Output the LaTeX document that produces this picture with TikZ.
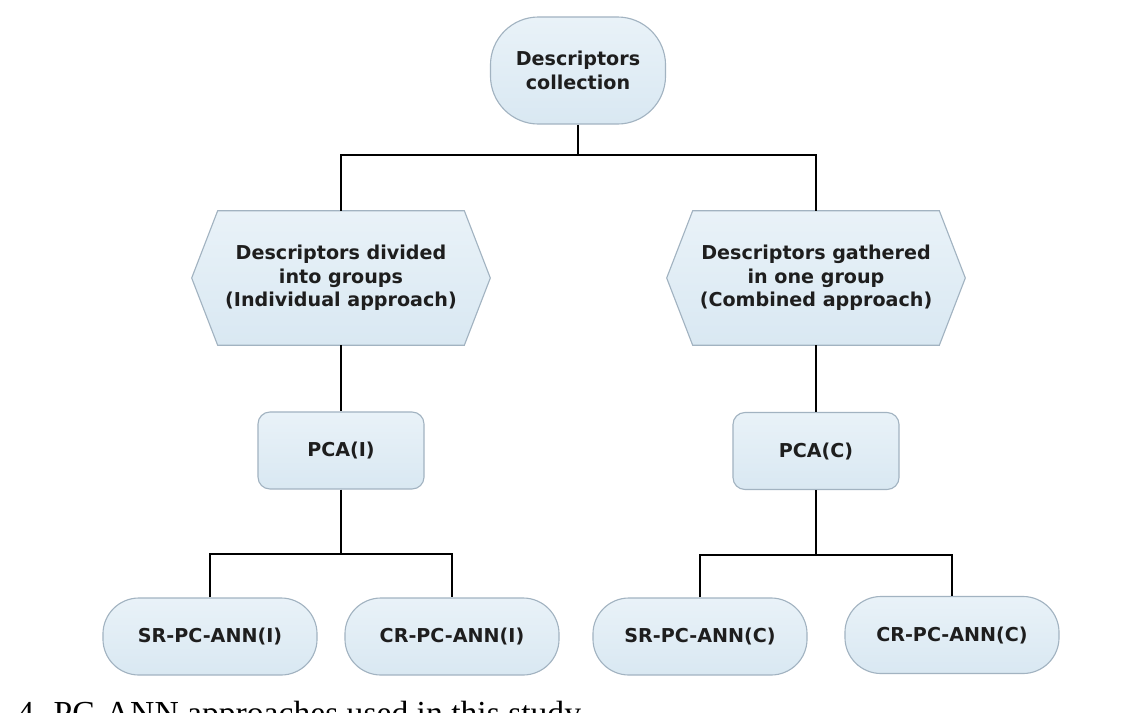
\documentclass[tikz,border=0pt]{standalone}
\usepackage{fontspec}
\setsansfont{DejaVu Sans}
\setmainfont{Liberation Serif}
\usetikzlibrary{calc,backgrounds}
\definecolor{boxfill}{HTML}{D9E8F2}
\definecolor{boxfilltop}{HTML}{E9F2F8}
\definecolor{boxline}{HTML}{A2B3C1}
\definecolor{txt}{HTML}{1E1E1E}
\tikzset{
  box/.style={draw=boxline, line width=0.8pt, top color=boxfilltop, bottom color=boxfill,
    text=txt, font=\sffamily\bfseries\fontsize{13.6}{16.6}\selectfont, align=center, inner sep=0pt},
  topbox/.style={box, minimum width=4.375cm, minimum height=2.675cm, rounded corners=1.2cm},
  hexbox/.style={text=txt, font=\sffamily\bfseries\fontsize{13.6}{16.6}\selectfont, align=center,
    inner sep=0pt, minimum width=7.45cm, minimum height=3.35cm},
  hexshape/.style={draw=boxline, line width=0.8pt, top color=boxfilltop, bottom color=boxfill},
  pcabox/.style={box, minimum width=4.15cm, minimum height=1.925cm, rounded corners=0.3cm},
  leafbox/.style={box, minimum width=5.35cm, minimum height=1.925cm, rounded corners=0.9cm},
  conn/.style={line width=1.5pt, black},
}
\newcommand{\hexpath}[1]{%
  \path[hexshape] ($(#1.north west)+(0.65cm,0)$) -- ($(#1.north east)+(-0.65cm,0)$) -- (#1.east)
    -- ($(#1.south east)+(-0.65cm,0)$) -- ($(#1.south west)+(0.65cm,0)$) -- (#1.west) -- cycle;}
\begin{document}
\begin{tikzpicture}[x=0.025cm,y=-0.025cm]
\useasboundingbox (0,0) rectangle (1138,712);
\clip (0,0) rectangle (1138,712);

\node[topbox] (top) at (578,70.5) {Descriptors\\collection};
\node[hexbox] (hl) at (341,278) {Descriptors divided\\into groups\\(Individual approach)};
\node[hexbox] (hr) at (816,278) {Descriptors gathered\\in one group\\(Combined approach)};
\begin{pgfonlayer}{background}
  \hexpath{hl}
  \hexpath{hr}
\end{pgfonlayer}

\node[pcabox] (pl) at (341,450.5) {PCA(I)};
\node[pcabox] (pr) at (816,451) {PCA(C)};

\node[leafbox] (l1) at (210,636.5) {SR-PC-ANN(I)};
\node[leafbox] (l2) at (452,636.5) {CR-PC-ANN(I)};
\node[leafbox] (r1) at (700,636.5) {SR-PC-ANN(C)};
\node[leafbox] (r2) at (952,635) {CR-PC-ANN(C)};

\coordinate (b1) at (578,155);
\coordinate (b2) at (341,554);
\coordinate (b3) at (816,555);

\draw[conn] (top.south) -- (b1);
\draw[conn] (hl.north) |- (b1) -| (hr.north);
\draw[conn] (hl.south) -- (pl.north);
\draw[conn] (hr.south) -- (pr.north);
\draw[conn] (pl.south) -- (b2);
\draw[conn] (l1.north) |- (b2) -| (l2.north);
\draw[conn] (pr.south) -- (b3);
\draw[conn] (r1.north) |- (b3) -| (r2.north);

\node[anchor=base west, inner sep=0pt, font=\rmfamily\fontsize{23.9}{28}\selectfont, text=black] (cap) at (17,724) {4. PC-ANN approaches used in this study};
\end{tikzpicture}
\end{document}
